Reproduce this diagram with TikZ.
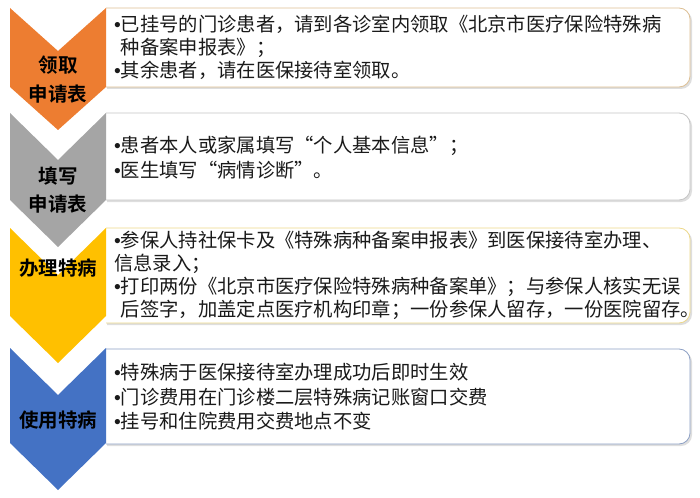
\documentclass[tikz,border=0pt]{standalone}
\usepackage{fontspec}
\setmainfont{Noto Sans CJK SC}[BoldFont={Noto Sans CJK SC Bold}]
\newfontfamily\bulletfont{Liberation Sans}
\newcommand\itemdot{{\bulletfont •}}
\definecolor{stepOrange}{HTML}{ED7D31}
\definecolor{stepGray}{HTML}{A5A5A5}
\definecolor{stepGold}{HTML}{FFC000}
\definecolor{stepBlue}{HTML}{4472C4}
\definecolor{edgeOrange}{HTML}{DDBF93}
\definecolor{edgeGray}{HTML}{C4C4C4}
\definecolor{edgeGold}{HTML}{EDD889}
\definecolor{edgeBlue}{HTML}{8C9FC4}
\definecolor{textGray}{HTML}{1A1A1A}
\tikzstyle{every node}=[inner sep=0pt]
\tikzstyle{chevtext}=[align=center,text=black,font=\fontsize{19.5}{29}\selectfont\bfseries]
\tikzstyle{boxtext}=[anchor=west,align=left,text=textGray,font=\fontsize{19.3}{23}\selectfont]
\tikzstyle{boxline}=[line width=0.8pt,fill=white,rounded corners=11pt]
\tikzstyle{boxshadow}=[fill=black!13,rounded corners=11pt]

\begin{document}
\begin{tikzpicture}[x=1pt, y=-1pt]
	\useasboundingbox (0,0) rectangle (700,497);
	% shadows of the boxes
	\fill[boxshadow] (107,10) -- (692,10) -- (692,89) -- (107,89);
	\fill[boxshadow] (107,115) -- (692,115) -- (692,202) -- (107,202);
	\fill[boxshadow] (107,230) -- (692,230) -- (692,325) -- (107,325);
	\fill[boxshadow] (107,351) -- (692,351) -- (692,446) -- (107,446);
	% boxes
	\filldraw[boxline, draw=edgeOrange] (106,8) -- (690,8) -- (690,87) -- (106,87);
	\filldraw[boxline, draw=edgeGray] (106,113) -- (690,113) -- (690,200) -- (106,200);
	\filldraw[boxline, draw=edgeGold] (106,228) -- (690,228) -- (690,323) -- (106,323);
	\filldraw[boxline, draw=edgeBlue] (106,349) -- (690,349) -- (690,444) -- (106,444);
	% chevrons
	\fill[stepOrange] (10,8) -- (58,51) -- (106,8) -- (106,87) -- (58,130) -- (10,87) -- cycle;
	\fill[stepGray] (10,113) -- (58,160) -- (106,113) -- (106,200) -- (58,247) -- (10,200) -- cycle;
	\fill[stepGold] (10,228) -- (58,275) -- (106,228) -- (106,316) -- (58,363) -- (10,316) -- cycle;
	\fill[stepBlue] (10,348) -- (58,395) -- (106,348) -- (106,443) -- (58,490) -- (10,443) -- cycle;
	% step names
	\node[chevtext] (get) at (58,80) {领取\\申请表};
	\node[chevtext] (fill) at (58,190) {填写\\[-1pt]申请表};
	\node[chevtext] (handle) at (58,268) {办理特病};
	\node[chevtext] (use) at (58,420) {使用特病};
	% box texts
	\node[boxtext] (getinfo) at (114,47.5) {\itemdot 已挂号的门诊患者，请到各诊室内领取《北京市医疗保险特殊病\\\phantom{\itemdot}种备案申报表》；\\\itemdot 其余患者，请在医保接待室领取。};
	\node[boxtext] (fillinfo) at (114,157.5) {\itemdot 患者本人或家属填写“个人基本信息”；\\[2pt]\itemdot 医生填写“病情诊断”。};
	\node[boxtext] (handleinfo) at (114,275.5) {\itemdot 参保人持社保卡及《特殊病种备案申报表》到医保接待室办理、\\信息录入；\\\itemdot 打印两份《北京市医疗保险特殊病种备案单》；与参保人核实无误\\\phantom{\itemdot}后签字，加盖定点医疗机构印章；一份参保人留存，一份医院留存。};
	\node[boxtext] (useinfo) at (114,397) {\itemdot 特殊病于医保接待室办理成功后即时生效\\[1.5pt]\itemdot 门诊费用在门诊楼二层特殊病记账窗口交费\\[1.5pt]\itemdot 挂号和住院费用交费地点不变};
\end{tikzpicture}
\end{document}
